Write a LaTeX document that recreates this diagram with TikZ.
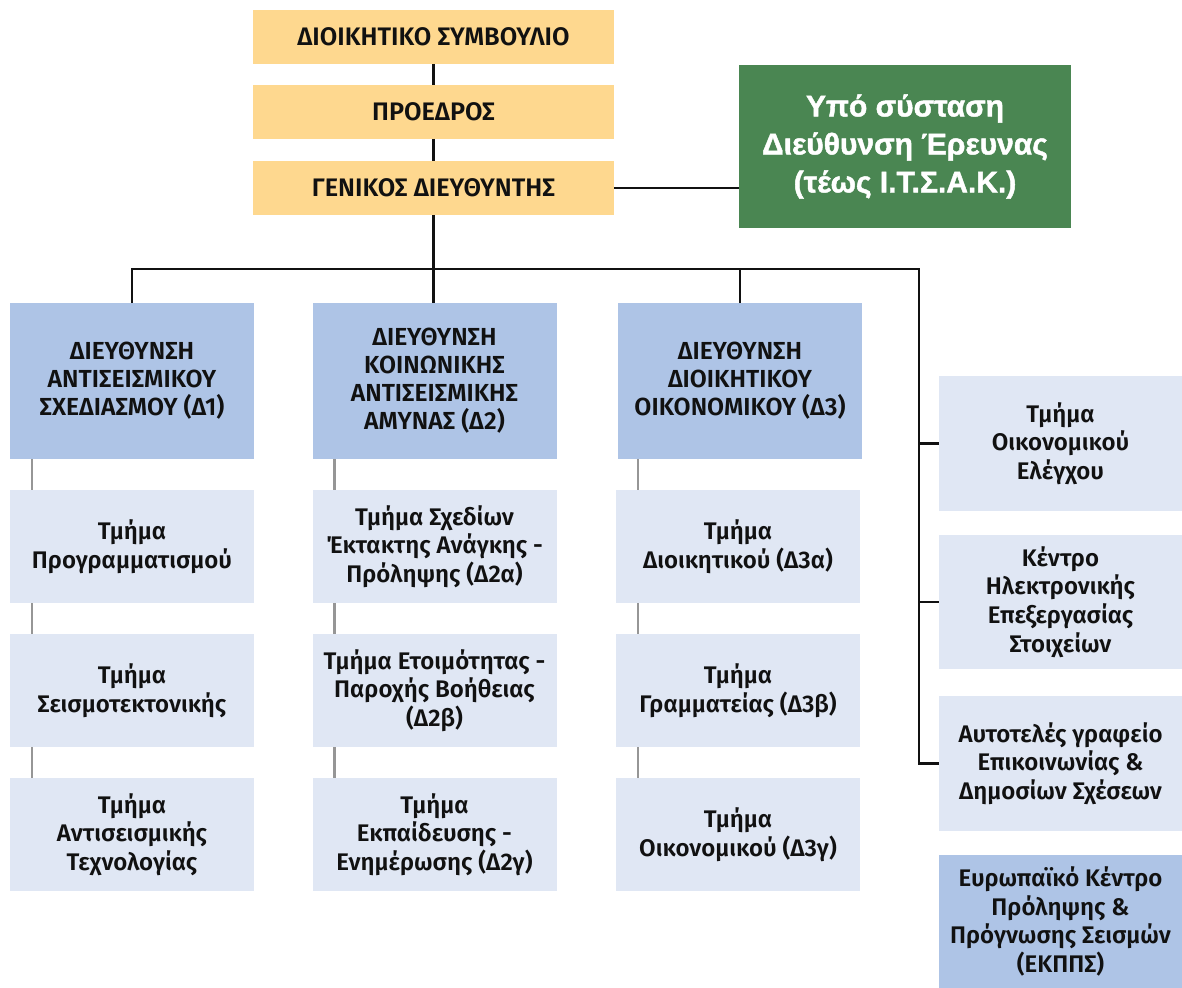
\documentclass[tikz,border=0pt]{standalone}
\usepackage{fontspec}
\setmainfont{Fira Sans}[UprightFont={* SemiBold}]
\newfontfamily\arialfont{Liberation Sans}[UprightFont={* Bold}, FakeBold=1.5]
\usepackage{xcolor}
\usepackage{tikz}
\definecolor{topyellow}{RGB}{254,216,143}
\definecolor{dirblue}{RGB}{174,196,230}
\definecolor{deptblue}{RGB}{224,231,244}
\definecolor{itsakgreen}{RGB}{74,134,82}
\definecolor{linegray}{RGB}{150,150,150}
\definecolor{ink}{RGB}{17,17,17}
\tikzset{
topbox/.style = {rectangle, fill=topyellow, minimum width=#1, minimum height=40.5pt,
                 inner sep=0pt, outer sep=0pt, text=ink,
                 font=\fontsize{19}{21}\selectfont},
topbox/.default = 270.75pt % size of the board boxes
}
\tikzset{
dirbox/.style = {rectangle, fill=dirblue, minimum width=#1, minimum height=117pt,
                 inner sep=0pt, outer sep=0pt, align=center, text=ink,
                 font=\fontsize{18.5}{21}\selectfont},
dirbox/.default = 183pt
}
\tikzset{
deptbox/.style = {rectangle, fill=deptblue, minimum width=#1, minimum height=84.75pt,
                  inner sep=0pt, outer sep=0pt, align=center, text=ink,
                  font=\fontsize{18}{21.5}\selectfont},
deptbox/.default = 183pt
}
\tikzset{
orgline/.style = {draw=ink, line width=2pt},
subline/.style = {draw=linegray, line width=2pt}
}

\begin{document}
\begin{tikzpicture}[x=0.75pt, y=-0.75pt]
\useasboundingbox (0,0) rectangle (1182,988);

    \node[topbox] (board) at (433.5,37) {ΔΙΟΙΚΗΤΙΚΟ ΣΥΜΒΟΥΛΙΟ};
    \node[topbox] (president) at (433.5,112) {ΠΡΟΕΔΡΟΣ};
    \node[topbox] (director) at (433.5,188) {ΓΕΝΙΚΟΣ ΔΙΕΥΘΥΝΤΗΣ};
    \node[rectangle, fill=itsakgreen, minimum width=249pt, minimum height=122.25pt,
          inner sep=0pt, outer sep=0pt, align=center, text=white,
          font=\arialfont\fontsize{22.5}{28.5}\selectfont]
          (research) at (905,146.5) {Υπό σύσταση\\Διεύθυνση Έρευνας\\(τέως Ι.Τ.Σ.Α.Κ.)};

    \node[dirbox] (dOne) at (132,381) {ΔΙΕΥΘΥΝΣΗ\\ΑΝΤΙΣΕΙΣΜΙΚΟΥ\\ΣΧΕΔΙΑΣΜΟΥ (Δ1)};
    \node[dirbox] (dTwo) at (434.5,381) {ΔΙΕΥΘΥΝΣΗ\\ΚΟΙΝΩΝΙΚΗΣ\\ΑΝΤΙΣΕΙΣΜΙΚΗΣ\\ΑΜΥΝΑΣ (Δ2)};
    \node[dirbox] (dThree) at (740,381) {ΔΙΕΥΘΥΝΣΗ\\ΔΙΟΙΚΗΤΙΚΟΥ\\ΟΙΚΟΝΟΜΙΚΟΥ (Δ3)};

    \node[deptbox] (dOneA) at (132,546.5) {Τμήμα\\Προγραμματισμού};
    \node[deptbox] (dOneB) at (132,690.5) {Τμήμα\\Σεισμοτεκτονικής};
    \node[deptbox] (dOneC) at (132,834.5) {Τμήμα\\Αντισεισμικής\\Τεχνολογίας};
    \node[deptbox] (dTwoA) at (434.5,546.5) {Τμήμα Σχεδίων\\Έκτακτης Ανάγκης -\\Πρόληψης (Δ2α)};
    \node[deptbox] (dTwoB) at (434.5,690.5) {Τμήμα Ετοιμότητας -\\Παροχής Βοήθειας\\(Δ2β)};
    \node[deptbox] (dTwoC) at (434.5,834.5) {Τμήμα\\Εκπαίδευσης -\\Ενημέρωσης (Δ2γ)};
    \node[deptbox] (dThreeA) at (738,546.5) {Τμήμα\\Διοικητικού (Δ3α)};
    \node[deptbox] (dThreeB) at (738,690.5) {Τμήμα\\Γραμματείας (Δ3β)};
    \node[deptbox] (dThreeC) at (738,834.5) {Τμήμα\\Οικονομικού (Δ3γ)};

    \node[deptbox=182.25pt, minimum height=101.25pt] (audit) at (1060.5,443.5) {Τμήμα\\Οικονομικού\\Ελέγχου};
    \node[deptbox=182.25pt, minimum height=100.5pt] (computing) at (1060.5,602) {Κέντρο\\Ηλεκτρονικής\\Επεξεργασίας\\Στοιχείων};
    \node[deptbox=182.25pt, minimum height=101.25pt] (press) at (1060.5,763.5) {Αυτοτελές γραφείο\\Επικοινωνίας \&\\Δημοσίων Σχέσεων};
    \node[dirbox=182.25pt, minimum height=99.75pt, font=\fontsize{18}{21.5}\selectfont] (ekpps) at (1060.5,921.5) {Ευρωπαϊκό Κέντρο\\Πρόληψης \&\\Πρόγνωσης Σεισμών\\(ΕΚΠΠΣ)};

\coordinate (busR) at (919,269);
\draw[orgline]  (board) -- (president);
\draw[orgline]  (president) -- (director);
\draw[orgline]  (director.east) -- (director.east -| research.west);
\draw[orgline]  (director.south) -- (director.south |- dTwo.north);
\draw[orgline]  (dOne.north) |- (busR) |- (press.west);
\draw[orgline]  (dThree.north) -- (dThree.north |- busR);
\draw[orgline]  (busR |- audit.west) -- (audit.west);
\draw[orgline]  (busR |- computing.west) -- (computing.west);
\draw[subline]  ([xshift=16.5pt]dOne.south west) -- ([xshift=16.5pt]dOneA.north west);
\draw[subline]  ([xshift=16.5pt]dOneA.south west) -- ([xshift=16.5pt]dOneB.north west);
\draw[subline]  ([xshift=16.5pt]dOneB.south west) -- ([xshift=16.5pt]dOneC.north west);
\draw[subline]  ([xshift=16.5pt]dTwo.south west) -- ([xshift=16.5pt]dTwoA.north west);
\draw[subline]  ([xshift=16.5pt]dTwoA.south west) -- ([xshift=16.5pt]dTwoB.north west);
\draw[subline]  ([xshift=16.5pt]dTwoB.south west) -- ([xshift=16.5pt]dTwoC.north west);
\draw[subline]  ([xshift=16.5pt]dThreeA.north west |- dThree.south) -- ([xshift=16.5pt]dThreeA.north west);
\draw[subline]  ([xshift=16.5pt]dThreeA.south west) -- ([xshift=16.5pt]dThreeB.north west);
\draw[subline]  ([xshift=16.5pt]dThreeB.south west) -- ([xshift=16.5pt]dThreeC.north west);
\end{tikzpicture}
\end{document}
